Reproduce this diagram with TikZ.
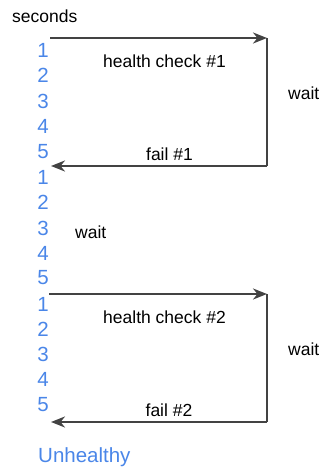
\documentclass[tikz,border=0pt]{standalone}
\usepackage{fontspec}
\setmainfont{Liberation Sans}
\usetikzlibrary{arrows.meta}
\definecolor{tickblue}{HTML}{4A86E8}
\definecolor{flowgray}{HTML}{434343}
\begin{document}
\begin{tikzpicture}[x=1pt,y=-1pt,
  lbl/.style={font=\fontsize{17.5}{20}\selectfont, text=black, inner sep=0pt},
  num/.style={font=\fontsize{20.5}{24}\selectfont, text=tickblue, inner sep=0pt},
  wire/.style={draw=flowgray, line width=2.6pt, line join=miter},
  flow/.style={wire, -{Stealth[length=14pt,width=11pt,inset=4.5pt]}}]
\useasboundingbox (0,0) rectangle (322,467);

% axis title
\node[lbl, anchor=west] (sec) at (12,16.5) {seconds};

% second ticks, three blocks of five
\foreach \i/\y in {1/50,2/75.5,3/101,4/126.5,5/152}
  \node[num] (a\i) at (43,\y) {\i};
\foreach \i/\y in {1/177,2/202.5,3/228,4/253,5/278}
  \node[num] (b\i) at (43,\y) {\i};
\foreach \i/\y in {1/304,2/329,3/354,4/379.5,5/405}
  \node[num] (c\i) at (43,\y) {\i};

\node[num, anchor=base west] (state) at (38,462.5) {Unhealthy};

% first check loop
\coordinate (p1s) at (50,38);
\coordinate (p1c) at (267,38);
\coordinate (p1r) at (267,166);
\coordinate (p1e) at (51,166);
\draw[flow] (p1s) -- (p1c);
\draw[wire] (p1c) -- (p1r);
\draw[flow] (p1r) -- (p1e);

\node[lbl] (hc1) at (164.5,61) {health check \#1};
\node[lbl, anchor=west] (w1) at (288,93) {wait};
\node[lbl] (f1) at (169.5,154) {fail \#1};

% pause between checks
\node[lbl, anchor=west] (w2) at (75,232) {wait};

% second check loop
\coordinate (p2s) at (49,294);
\coordinate (p2c) at (267,294);
\coordinate (p2r) at (267,422);
\coordinate (p2e) at (51,422);
\draw[flow] (p2s) -- (p2c);
\draw[wire] (p2c) -- (p2r);
\draw[flow] (p2r) -- (p2e);

\node[lbl] (hc2) at (164.5,317) {health check \#2};
\node[lbl, anchor=west] (w3) at (288,349) {wait};
\node[lbl] (f2) at (169,410) {fail \#2};
\end{tikzpicture}
\end{document}
